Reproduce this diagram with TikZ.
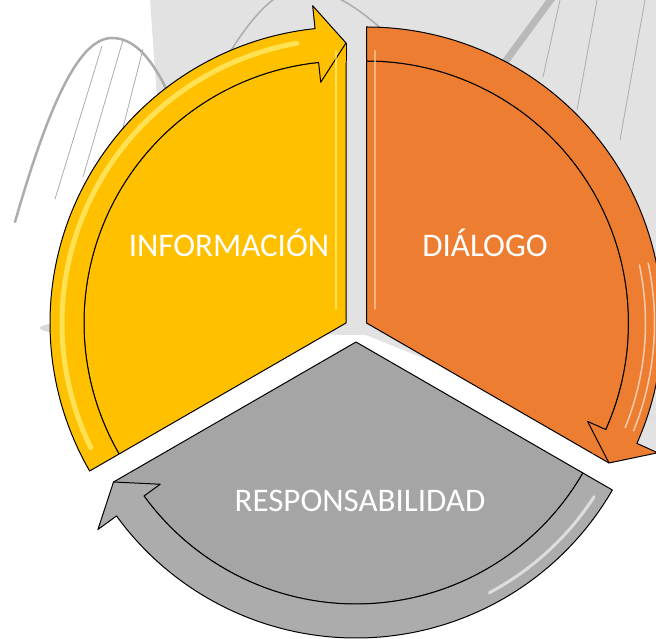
\documentclass[tikz,border=0pt]{standalone}
\usepackage{fontspec}
\setmainfont{Carlito}
\usetikzlibrary{calc}
\definecolor{infoyellow}{HTML}{FFC000}
\definecolor{dialorange}{HTML}{ED7D31}
\definecolor{respgray}{HTML}{A5A5A5}
\definecolor{backgray}{HTML}{E2E2E2}
\tikzset{
  piece/.style={draw=black, line width=1pt, line join=round},
  segtext/.style={text=white, font=\fontsize{33}{36}\selectfont},
  shine/.style={white, opacity=0.6, line cap=round},
  bridge/.style={draw=gray!65, line width=0.8pt, line cap=round},
}

\begin{document}
\begin{tikzpicture}[x=1pt,y=1pt]
    \useasboundingbox (0,0) rectangle (656,639);

    % faded photo behind the cycle
    \fill[backgray] (150,639) -- (656,639) -- (656,189) -- (600,209) -- (366,304)
        -- (346,304) -- (200,309) -- (160,499) -- cycle;
    \fill[gray!30] (65,311) ellipse [x radius=25, y radius=5];
    \fill[gray!25] (628,222) ellipse [x radius=30, y radius=5];
    \draw[bridge, line width=2.5pt] (15,417) .. controls (50,539) and (80,601) .. (112,601)
        .. controls (140,601) and (160,569) .. (180,519);
    \draw[bridge] (123,599) -- (83,462);
    \draw[bridge] (102,593) -- (55,440);
    \draw[bridge] (143,590) -- (115,480);
    \draw[bridge, line width=1.5pt] (225,579) .. controls (250,620) and (275,650) .. (300,650)
        .. controls (340,650) and (370,620) .. (400,594);
    \draw[bridge, draw=gray!55, line width=7pt] (555,645) -- (505,577);
    \draw[bridge] (560,639) -- (543,562);
    \draw[bridge] (597,639) -- (577,529);
    \draw[bridge] (645,639) -- (620,499);

    \coordinate (yc) at (346,316);
    \coordinate (oc) at (366.5,316);
    \coordinate (gc) at (356,297);

    % INFORMACION
    \begin{scope}[shift={(yc)}]
        \draw[piece, fill=infoyellow] (0,0) -- (90:262) arc[start angle=90, end angle=210, radius=262] -- cycle;
        \fill[infoyellow] (90:261) -- (90:280) -- (96:261) -- cycle;
        \draw[piece, fill=infoyellow] (210:296) arc[start angle=210, end angle=96, radius=296]
            -- (96:319) -- (90:280) -- (96:242) -- (96:262)
            arc[start angle=96, end angle=210, radius=262] -- cycle;
        \draw[piece] (90:262) -- (90:280);
        \draw[shine, line width=5pt, draw=yellow!45!white] (206:284) arc[start angle=206, end angle=100, radius=284];
        \draw[shine, line width=2pt, draw=yellow!40!white] (-10,14) -- (-10,272);
    \end{scope}

    % DIALOGO
    \begin{scope}[shift={(oc)}]
        \draw[piece, fill=dialorange] (0,0) -- (90:262) arc[start angle=90, end angle=-30, radius=262] -- cycle;
        \fill[dialorange] (-30:261) -- (-30:280) -- (-24:261) -- cycle;
        \draw[piece, fill=dialorange] (90:296) arc[start angle=90, end angle=-24, radius=296]
            -- (-24:319) -- (-30:280) -- (-24:242) -- (-24:262)
            arc[start angle=-24, end angle=90, radius=262] -- cycle;
        \draw[piece] (-30:262) -- (-30:280);
        \draw[shine, line width=1.5pt] (12:279) arc[start angle=12, end angle=-22, radius=279];
        \draw[shine, line width=1.5pt] (12:288) arc[start angle=12, end angle=-22, radius=288];
        \draw[shine, line width=2pt, draw=orange!30!white] (8,14) -- (8,272);
    \end{scope}

    % RESPONSABILIDAD
    \begin{scope}[shift={(gc)}]
        \draw[piece, fill=respgray] (0,0) -- (-30:262) arc[start angle=-30, end angle=-150, radius=262] -- cycle;
        \fill[respgray] (210:261) -- (210:280) -- (216:261) -- cycle;
        \draw[piece, fill=respgray!92!white] (330:296) arc[start angle=330, end angle=216, radius=296]
            -- (216:319) -- (210:280) -- (216:242) -- (216:262)
            arc[start angle=216, end angle=330, radius=262] -- cycle;
        \draw[piece] (210:262) -- (210:280);
        \draw[shine, line width=3pt] (-33:284) arc[start angle=-33, end angle=-62, radius=284];
    \end{scope}

    \node[segtext] (info) at (229,396) {INFORMACIÓN};
    \node[segtext] (dial) at (485,396) {DIÁLOGO};
    \node[segtext] (resp) at (360,138) {RESPONSABILIDAD};

\end{tikzpicture}
\end{document}
